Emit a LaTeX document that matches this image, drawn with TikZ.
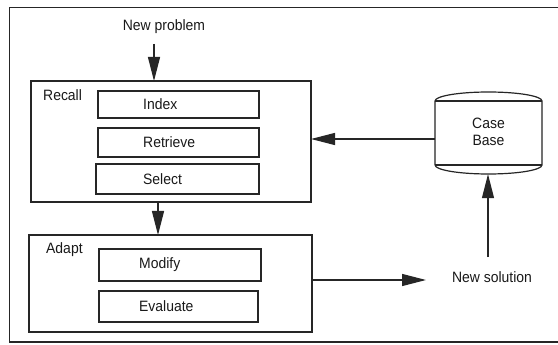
\documentclass[tikz,border=0pt]{standalone}
\usepackage{fontspec}
\setmainfont{Liberation Sans}
\usetikzlibrary{arrows.meta}
\begin{document}
\begin{tikzpicture}[x=1pt,y=-1pt,
  ink/.style={draw=black!85, line width=1.2pt},
  box/.style={ink, minimum width=#1, inner sep=0pt, outer sep=0pt},
  lbl/.style={font=\fontsize{15}{17}\selectfont, inner sep=0pt, text=black!90, xscale=0.93},
  arr/.style={ink, -{Triangle[length=24pt,width=12pt]}}]
\clip (0,0) rectangle (558,345);
\fill[white] (0,0) rectangle (558,345);

% outer frame, open at the right-hand edge
\draw[ink] (575,7.5) -- (9.5,7.5) -- (9.5,342) -- (575,342);

% recall stage
\node[box=280pt, minimum height=121pt] (recall) at (171,141.5) {};
\node[lbl, anchor=west] (recallT) at (43,95) {Recall};
\node[box=161pt, minimum height=27pt] (index) at (178.5,104.5) {};
\node[box=161pt, minimum height=29pt] (retrieve) at (178.5,142.5) {};
\node[box=163pt, minimum height=30pt] (select) at (177.5,179) {};
\node[lbl, anchor=west] (indexT) at (143,104.5) {Index};
\node[lbl, anchor=west] (retrieveT) at (143,142.5) {Retrieve};
\node[lbl, anchor=west] (selectT) at (143,179) {Select};

% adapt stage
\node[box=283pt, minimum height=97pt] (adapt) at (170.5,283.5) {};
\node[lbl, anchor=west] (adaptT) at (46,250) {Adapt};
\node[box=162pt, minimum height=32pt] (modify) at (180,265) {};
\node[box=159pt, minimum height=31pt] (evaluate) at (178.5,306.5) {};
\node[lbl, anchor=west] (modifyT) at (139,265) {Modify};
\node[lbl, anchor=west] (evaluateT) at (139,306.5) {Evaluate};

% case base drum
\node[minimum width=107pt, minimum height=82pt, inner sep=0pt] (cb) at (488.5,133) {};
\node[lbl, align=center] (cbT) at (488.5,131.5) {Case\\[0pt]Base};
\draw[ink] (435,101) -- (542,101)
           (435,165) -- (542,165);
\draw[ink] (435,165) -- (435,101)
           arc[start angle=180, end angle=0, x radius=53.5pt, y radius=9pt]
           -- (542,165)
           arc[start angle=0, end angle=-180, x radius=53.5pt, y radius=9pt];

% texts outside the stages
\node[lbl] (np) at (164,27) {New problem};
\node[lbl] (ns) at (492,277) {New solution};

% connectors
\coordinate (npA) at (154,44);
\draw[arr] (npA) -- (npA |- recall.north);
\coordinate (rA) at (158,0);
\draw[arr] (rA |- recall.south) -- (rA |- adapt.north);
\coordinate (cbA) at (0,139);
\draw[arr] (cbA -| cb.west) -- (cbA -| recall.east);
\coordinate (nsA) at (488,257);
\draw[arr] (nsA) -- (nsA |- cb.south);
\coordinate (adA) at (426,280);
\draw[arr] (adA -| adapt.east) -- (adA);
\end{tikzpicture}
\end{document}
